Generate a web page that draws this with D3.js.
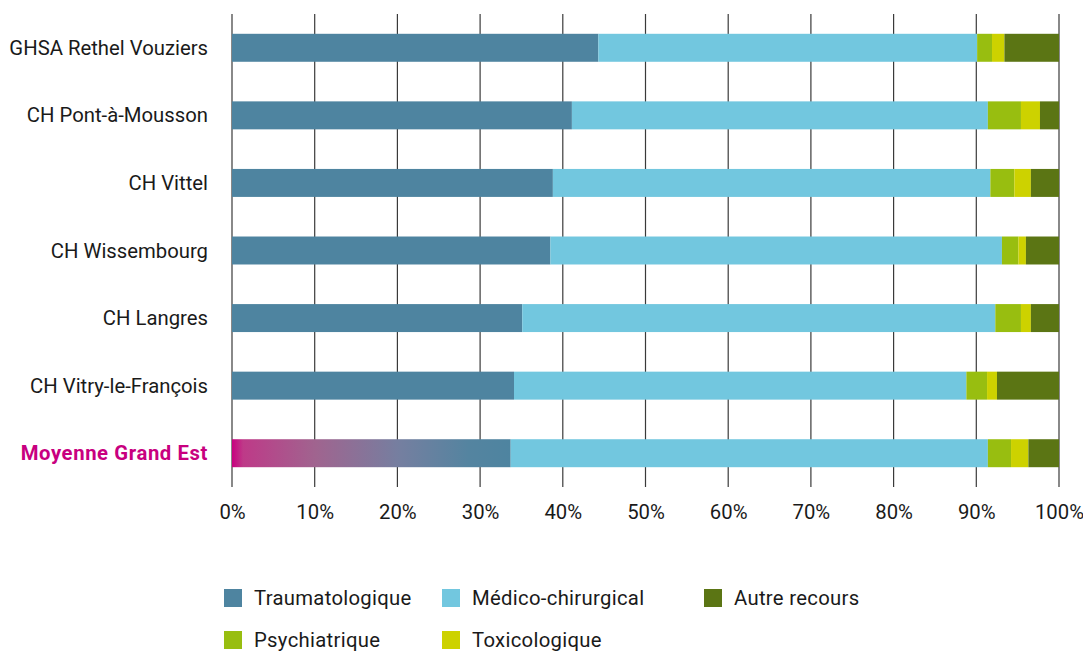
<!DOCTYPE html>
<html><head><meta charset="utf-8">
<script src="https://cdn.jsdelivr.net/npm/d3@7"></script>
<style>
body{margin:0;background:#fff;}
svg{display:block;font-family:Roboto,"Noto Sans",sans-serif;}
</style></head>
<body><svg id="c" width="1083" height="654"></svg>
<script>
const categories = ["GHSA Rethel Vouziers","CH Pont-à-Mousson","CH Vittel","CH Wissembourg","CH Langres","CH Vitry-le-François","Moyenne Grand Est"];
const seriesNames = ["Traumatologique","Médico-chirurgical","Psychiatrique","Toxicologique","Autre recours"];
const traumatologique = [44.3, 41.1, 38.8, 38.5, 35.1, 34.1, 33.7];
const medicoChirurgical = [45.8, 50.3, 52.9, 54.6, 57.2, 54.7, 57.7];
const psychiatrique = [1.8, 4.0, 2.9, 2.0, 3.1, 2.5, 2.8];
const toxicologique = [1.5, 2.3, 2.0, 0.9, 1.2, 1.2, 2.1];
const autreRecours = [6.6, 2.3, 3.4, 4.0, 3.4, 7.5, 3.7];
const tickValues = [0,10,20,30,40,50,60,70,80,90,100];
const colors = ["#4E84A0","#72C7DF","#98BE10","#CDD200","#5B7514"];
const legendOrder = [[0,1,4],[2,3]];

const series = [traumatologique, medicoChirurgical, psychiatrique, toxicologique, autreRecours];
const data = categories.map((c,i)=>{const o={cat:c}; seriesNames.forEach((s,j)=>o[s]=series[j][i]); return o;});
const stacked = d3.stack().keys(seriesNames)(data);

const svg = d3.select("#c");
const x = d3.scaleLinear().domain([0,100]).range([232,1059]);
const y = d3.scaleBand().domain(categories).range([14,487]).paddingInner(0.586).paddingOuter(0.293);
const FS = 20.3;

const defs = svg.append("defs");
const grad = defs.append("linearGradient").attr("id","gmoy").attr("x1","0%").attr("x2","100%");
[[0,"#C8007F"],[0.04,"#BE3A88"],[0.3,"#A0648F"],[0.6,"#757FA0"],[0.85,"#5484A0"],[1,"#4E84A0"]]
  .forEach(s=>grad.append("stop").attr("offset",s[0]).attr("stop-color",s[1]));

// gridlines
svg.append("g").selectAll("line").data(tickValues).join("line")
  .attr("x1",d=>x(d)).attr("x2",d=>x(d)).attr("y1",14).attr("y2",487)
  .attr("stroke","#3a3a3a").attr("stroke-width",1.2);

// bars
svg.append("g").selectAll("g").data(stacked).join("g")
  .attr("fill",(d,i)=>colors[i])
  .selectAll("rect").data(d=>d).join("rect")
  .attr("x",d=>x(d[0])).attr("width",d=>x(d[1])-x(d[0]))
  .attr("y",d=>y(d.data.cat)).attr("height",y.bandwidth())
  .attr("fill",function(d){const k=d3.select(this.parentNode).datum().key; return (k===seriesNames[0] && d.data.cat==="Moyenne Grand Est")?"url(#gmoy)":null;});

// category labels
svg.append("g").selectAll("text").data(categories).join("text")
  .attr("x",208).attr("y",d=>y(d)+y.bandwidth()/2).attr("dy","0.35em")
  .attr("text-anchor","end").attr("font-size",FS)
  .attr("fill",d=>d==="Moyenne Grand Est"?"#C8007F":"#1a1a1a")
  .attr("font-weight",d=>d==="Moyenne Grand Est"?700:400)
  .attr("letter-spacing",d=>d==="Moyenne Grand Est"?0.6:0)
  .text(d=>d);

// x axis labels
const xAxis = d3.axisBottom(x).tickValues(tickValues).tickFormat(d=>d+"%").tickSize(0).tickPadding(0);
const ax = svg.append("g").attr("transform","translate(0,512)").call(xAxis);
ax.select(".domain").remove();
ax.selectAll("text").attr("font-size",FS).attr("fill","#1a1a1a").attr("font-family","Roboto,sans-serif").attr("dy","0.35em");

// legend
const legX = [[224,442,704],[224,442]];
const legY = [598,640];
legendOrder.forEach((row,r)=>row.forEach((si,c)=>{
  const g = svg.append("g").attr("transform",`translate(${legX[r][c]},${legY[r]})`);
  g.append("rect").attr("x",0).attr("y",-9).attr("width",18).attr("height",18).attr("fill",colors[si]);
  g.append("text").attr("x",30).attr("y",0).attr("dy","0.35em").attr("font-size",FS).attr("letter-spacing",0.3).attr("fill","#1a1a1a").text(seriesNames[si]);
}));
</script></body></html>
